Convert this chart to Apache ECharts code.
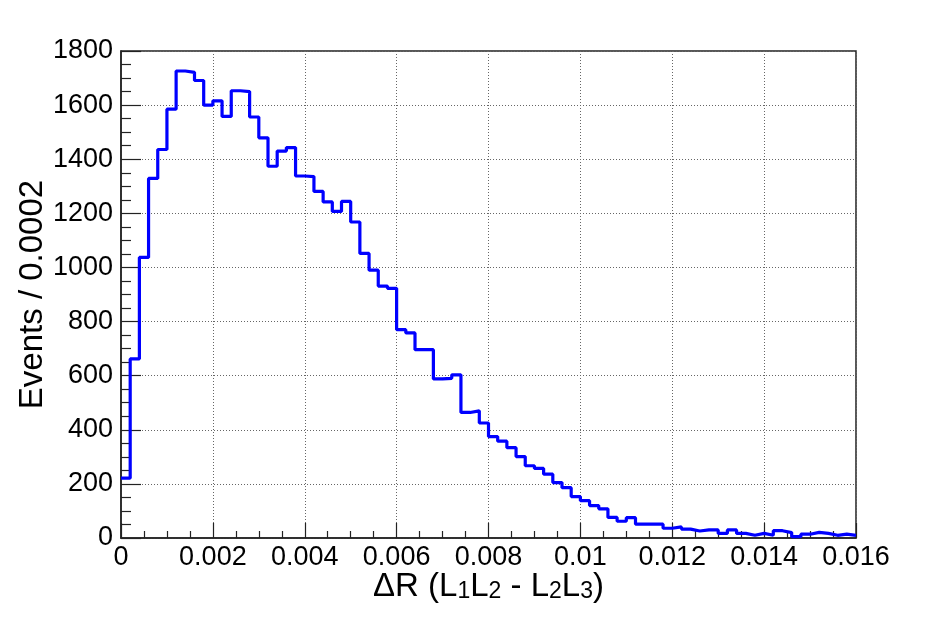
<!DOCTYPE html>
<html>
<head>
<meta charset="utf-8">
<script src="https://cdn.jsdelivr.net/npm/echarts@6/dist/echarts.min.js"></script>
<style>
html,body{margin:0;padding:0;background:#fff;}
#chart{width:932px;height:620px;}
</style>
</head>
<body>
<div id="chart"></div>
<script>
// Histogram: 80 bins of width 0.0002 from 0 to 0.016
const binWidth = 0.0002;
const xMin = 0;
const xMax = 0.016;
const counts = [
  221, 662, 1037, 1329, 1436, 1585, 1726, 1721, 1691, 1600,
  1616, 1558, 1653, 1650, 1556, 1479, 1374, 1430, 1443, 1338,
  1336, 1281, 1242, 1207, 1244, 1168, 1052, 990, 931, 923,
  770, 758, 696, 696, 588, 590, 603, 464, 470, 425,
  375, 358, 334, 301, 267, 257, 236, 205, 186, 153,
  138, 120, 108, 76, 62, 75, 51, 51, 51, 36,
  41, 33, 26, 30, 30, 17, 30, 17, 10, 17,
  10, 27, 20, 5, 14, 21, 17, 10, 14, 10
];
const yTitle = 'Events / 0.0002';
const xTitleParts = ['ΔR (L', '1', 'L', '2', ' - L', '2', 'L', '3', ')'];

// build step points from bin edges
const points = counts.map((c, i) => [+(xMin + i * binWidth).toFixed(6), c]);
points.push([xMax, counts[counts.length - 1]]);

const xName = xTitleParts.map((t, i) => (i % 2 === 0 ? '{a|' : '{b|') + t + '}').join('');

const FONT = '"Liberation Sans", Arial, Helvetica, sans-serif';
const chart = echarts.init(document.getElementById('chart'), null, {renderer: 'canvas'});
chart.setOption({
  animation: false,
  backgroundColor: '#fff',
  grid: {
    left: 121, right: 76, top: 51, bottom: 82,
    show: true, borderColor: '#222', borderWidth: 1.5, backgroundColor: 'transparent'
  },
  xAxis: {
    type: 'value', min: xMin, max: xMax, interval: 0.002,
    name: xName, nameLocation: 'middle', nameGap: 27, nameMoveOverlap: false,
    nameTextStyle: {
      fontFamily: FONT, color: '#000',
      rich: {
        a: {fontSize: 33, fontFamily: FONT, color: '#000', lineHeight: 38, verticalAlign: 'bottom'},
        b: {fontSize: 23, fontFamily: FONT, color: '#000', lineHeight: 16, verticalAlign: 'bottom'}
      }
    },
    axisLine: {show: true, onZero: false, lineStyle: {color: '#222', width: 1.5}},
    axisTick: {show: true, inside: true, length: 15, lineStyle: {color: '#222', width: 1.2}},
    minorTick: {show: true, splitNumber: 4, length: 7, lineStyle: {color: '#222', width: 1.2}},
    axisLabel: {
      fontFamily: FONT, fontSize: 27, color: '#000', margin: 6,
      formatter: v => String(parseFloat(v.toFixed(4)))
    },
    splitLine: {show: true, lineStyle: {color: '#666', width: 1, type: [1, 2]}},
    minorSplitLine: {show: false}
  },
  yAxis: {
    type: 'value', min: 0, max: 1800, interval: 200,
    name: yTitle, nameLocation: 'middle', nameGap: 72, nameRotate: 90, nameMoveOverlap: false,
    nameTextStyle: {fontFamily: FONT, fontSize: 33, color: '#000'},
    axisLine: {show: true, lineStyle: {color: '#222', width: 1.5}},
    axisTick: {show: true, inside: true, length: 20, lineStyle: {color: '#222', width: 1.2}},
    minorTick: {show: true, splitNumber: 4, length: 10, lineStyle: {color: '#222', width: 1.2}},
    axisLabel: {fontFamily: FONT, fontSize: 27, color: '#000', margin: 8,
      formatter: v => String(v)},
    splitLine: {show: true, lineStyle: {color: '#666', width: 1, type: [1, 2]}}
  },
  series: [{
    type: 'line',
    step: 'end',
    data: points,
    symbol: 'none',
    lineStyle: {color: '#0000ff', width: 3.2},
    clip: true
  }]
});
</script>
</body>
</html>
